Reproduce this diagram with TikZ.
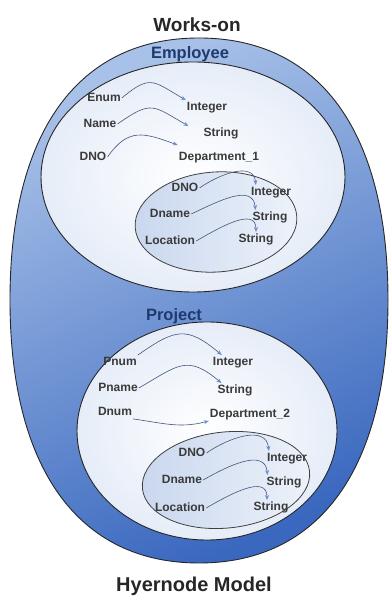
\documentclass[tikz,border=0pt]{standalone}
\usepackage{fontspec}
\setmainfont{Liberation Sans}
\definecolor{hnblue}{HTML}{3A68BF}
\definecolor{hnsky}{HTML}{A8C1E8}
\definecolor{hnpale}{HTML}{E6EDF8}
\definecolor{hnmist}{HTML}{C9D7EE}
\definecolor{hnnavy}{HTML}{1E3A6E}
\definecolor{hnink}{HTML}{3A3A3A}
\definecolor{hnwire}{HTML}{46557A}
\definecolor{hntip}{HTML}{6C8ED2}
\usetikzlibrary{arrows.meta,shapes.geometric}

\begin{document}
\begin{tikzpicture}[x=1pt,y=1pt,
  setbox/.style={ellipse,draw=black!85,line width=0.9pt,inner color=white,
    outer color=hnpale,inner sep=0pt},
  subset/.style={ellipse,draw=black!75,line width=0.8pt,left color=hnmist,
    right color=hnpale!70,inner sep=0pt},
  attr/.style={font=\fontsize{12}{14}\selectfont\bfseries,text=hnink,
    inner sep=1pt,text height=9pt,text depth=2.5pt},
  setname/.style={font=\fontsize{16.5}{19}\selectfont\bfseries,text=hnnavy,
    anchor=base},
  titletext/.style={font=\fontsize{19}{22}\selectfont\bfseries,text=black!85,
    anchor=base},
  link/.style={-{Stealth[length=5pt,width=4pt,color=hntip]},hnwire,line width=0.6pt}]
  \useasboundingbox (0,0) rectangle (389,599);
  % outer hypernode
  \path[draw=black!85,line width=0.9pt,top color=hnsky,bottom color=hnblue,
    shading angle=25]
    (199,561) .. controls (320,561) and (388,467) .. (388,299)
    .. controls (388,131) and (320,36) .. (199,36)
    .. controls (78,36) and (10,131) .. (10,299)
    .. controls (10,467) and (78,561) .. (199,561) -- cycle;
  \node[setbox,minimum width=304pt,minimum height=230pt] (emp) at (193,422) {};
  \node[subset,minimum width=162pt,minimum height=100pt,rotate=4] (emppart) at (216,377) {};
  \node[setbox,minimum width=260pt,minimum height=218pt] (proj) at (207,168) {};
  \node[subset,minimum width=168pt,minimum height=96pt,rotate=6] (projpart) at (226,119) {};
  % titles
  \node[titletext] (works) at (197,567) {Works-on};
  \node[setname] (emptitle) at (190,540) {Employee};
  \node[setname] (projtitle) at (174,278) {Project};
  \node[titletext,font=\fontsize{20}{23}\selectfont\bfseries] (model) at (194,7) {Hyernode Model};
  % Employee
  \node[attr] (enum) at (104,501) {Enum};
  \node[attr] (int1) at (207,492) {Integer};
  \node[attr] (name) at (100,475) {Name};
  \node[attr] (str1) at (221,466) {String};
  \node[attr] (dno1) at (93,442) {DNO};
  \node[attr] (dept1) at (219,442) {Department\_1};
  \node[attr] (dno2) at (185,411) {DNO};
  \node[attr] (int2) at (271,407) {Integer};
  \node[attr] (dname1) at (170,385) {Dname};
  \node[attr] (str2) at (270,382) {String};
  \node[attr] (loc1) at (170,358) {Location};
  \node[attr] (str3) at (256,360) {String};
  % Project
  \node[attr] (pnum) at (120,237) {Pnum};
  \node[attr] (int3) at (233,237) {Integer};
  \node[attr] (pname) at (118,211) {Pname};
  \node[attr] (str4) at (235,209) {String};
  \node[attr] (dnum) at (115,187) {Dnum};
  \node[attr] (dept2) at (250,185) {Department\_2};
  \node[attr] (dno3) at (192,146) {DNO};
  \node[attr] (int4) at (287,141) {Integer};
  \node[attr] (dname2) at (182,119) {Dname};
  \node[attr] (str5) at (284,117) {String};
  \node[attr] (loc2) at (180,91) {Location};
  \node[attr] (str6) at (271,92) {String};
  % links
  \draw[link] (enum.east) to[out=40,in=150,looseness=1.5] (int1.north west);
  \draw[link] (name.east) to[out=35,in=150,looseness=1.5] ([xshift=-14pt]str1.north west);
  \draw[link] (dno1.east) to[out=55,in=160,looseness=1.3] ([yshift=5pt]dept1.north west);
  \draw[link] (dno2.east) to[out=35,in=95,looseness=1.1] ([xshift=6pt]int2.north west);
  \draw[link] (dname1.east) to[out=25,in=95,looseness=1.1] ([xshift=4pt]str2.north west);
  \draw[link] (loc1.east) to[out=30,in=90,looseness=1.1] (str3.north);
  \draw[link] (pnum.north east) to[out=35,in=140,looseness=1.4] ([xshift=10pt]int3.north west);
  \draw[link] (pname.east) to[out=30,in=140,looseness=1.4] ([xshift=5pt]str4.north west);
  \draw[link] (dnum.south east) to[out=-8,in=195] (dept2.south west);
  \draw[link] (dno3.east) to[out=35,in=95,looseness=1.1] ([xshift=3pt]int4.north west);
  \draw[link] (dname2.east) to[out=30,in=95,looseness=1.1] ([xshift=2pt]str5.north west);
  \draw[link] (loc2.east) to[out=30,in=90,looseness=1.1] ([xshift=-4pt]str6.north);
\end{tikzpicture}
\end{document}
